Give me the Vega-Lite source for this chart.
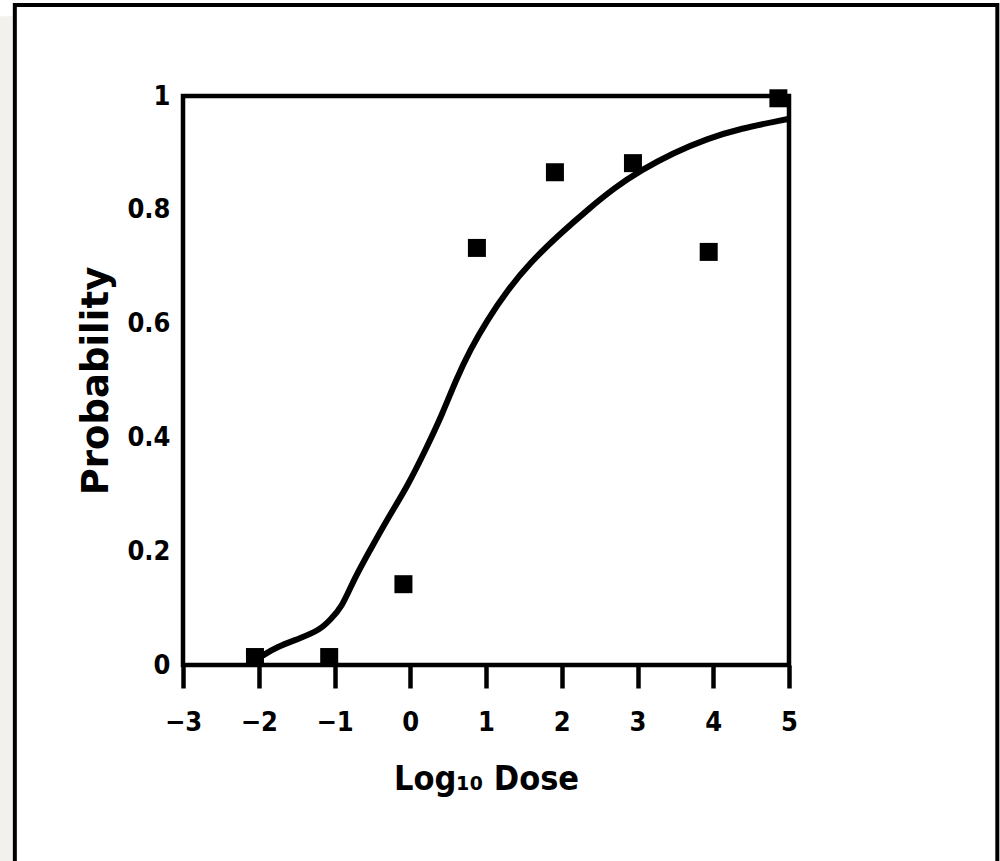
{
  "$schema": "https://vega.github.io/schema/vega-lite/v6.json",
  "width": 606,
  "height": 569,
  "autosize": {"type": "none"},
  "padding": {"left": 183, "top": 96, "right": 211, "bottom": 196},
  "background": "white",
  "config": {
    "view": {"stroke": "black", "strokeWidth": 4.5},
    "axis": {"grid": false, "domain": false}
  },
  "datasets": {
    "frame": [{"part": "outer frame"}],
    "strip": [{"part": "scan edge"}],
    "curve": [
      {"logdose": -1.98, "prob": 0.014},
      {"logdose": -1.76, "prob": 0.032},
      {"logdose": -1.45, "prob": 0.047},
      {"logdose": -1.19, "prob": 0.062},
      {"logdose": -1.06, "prob": 0.079},
      {"logdose": -0.9, "prob": 0.102},
      {"logdose": -0.75, "prob": 0.149},
      {"logdose": -0.53, "prob": 0.202},
      {"logdose": -0.31, "prob": 0.255},
      {"logdose": -0.04, "prob": 0.313},
      {"logdose": 0.22, "prob": 0.383},
      {"logdose": 0.43, "prob": 0.443},
      {"logdose": 0.6, "prob": 0.5},
      {"logdose": 0.79, "prob": 0.554},
      {"logdose": 1.02, "prob": 0.607},
      {"logdose": 1.28, "prob": 0.658},
      {"logdose": 1.58, "prob": 0.707},
      {"logdose": 1.98, "prob": 0.758},
      {"logdose": 2.34, "prob": 0.8},
      {"logdose": 2.7, "prob": 0.839},
      {"logdose": 3.04, "prob": 0.869},
      {"logdose": 3.47, "prob": 0.9},
      {"logdose": 3.92, "prob": 0.925},
      {"logdose": 4.36, "prob": 0.943},
      {"logdose": 4.93, "prob": 0.958},
      {"logdose": 5.0, "prob": 0.96}
    ],
    "points": [
      {"logdose": -2.05, "prob": 0.014},
      {"logdose": -1.07, "prob": 0.014},
      {"logdose": -0.09, "prob": 0.142},
      {"logdose": 0.88, "prob": 0.733},
      {"logdose": 1.91, "prob": 0.866},
      {"logdose": 2.94, "prob": 0.882},
      {"logdose": 3.94, "prob": 0.726},
      {"logdose": 4.86, "prob": 0.996}
    ]
  },
  "layer": [
    {
      "data": {"name": "strip"},
      "mark": {"type": "rect", "fill": "#f2f1ec", "stroke": null, "clip": false},
      "encoding": {
        "x": {"datum": -5.45, "type": "quantitative"},
        "x2": {"datum": -5.25},
        "y": {"datum": 1.14, "type": "quantitative"},
        "y2": {"datum": -0.4}
      }
    },
    {
      "data": {"name": "frame"},
      "mark": {"type": "rect", "fill": null, "stroke": "black", "strokeWidth": 4, "clip": false},
      "encoding": {
        "x": {"datum": -5.22, "type": "quantitative"},
        "x2": {"datum": 7.75},
        "y": {"datum": 1.16, "type": "quantitative"},
        "y2": {"datum": -0.4}
      }
    },
    {
      "data": {"name": "curve"},
      "mark": {"type": "line", "color": "black", "strokeWidth": 6, "interpolate": "basis"},
      "encoding": {
        "x": {
          "field": "logdose", "type": "quantitative",
          "scale": {"domain": [-3, 5], "nice": false, "zero": false},
          "axis": {
            "title": "Log₁₀ Dose",
            "values": [-3, -2, -1, 0, 1, 2, 3, 4, 5],
            "format": "d",
            "ticks": true, "tickSize": 23, "tickWidth": 4.5, "tickColor": "black",
            "labelFont": "DejaVu Sans Condensed, sans-serif",
            "labelFontWeight": "bold", "labelFontSize": 27, "labelColor": "black",
            "labelPadding": 21, "labelFlush": false,
            "titleFont": "DejaVu Sans Condensed, sans-serif",
            "titleFontWeight": "bold", "titleFontSize": 34, "titleColor": "black",
            "titlePadding": 27
          }
        },
        "y": {
          "field": "prob", "type": "quantitative",
          "scale": {"domain": [0, 1], "nice": false},
          "axis": {
            "title": "Probability",
            "values": [0, 0.2, 0.4, 0.6, 0.8, 1],
            "format": "~g",
            "ticks": false, "tickSize": 0,
            "labelFont": "DejaVu Sans Condensed, sans-serif",
            "labelFontWeight": "bold", "labelFontSize": 27, "labelColor": "black",
            "labelPadding": 13, "labelFlush": false,
            "titleFont": "DejaVu Sans",
            "titleFontWeight": "bold", "titleFontSize": 37, "titleColor": "black",
            "titlePadding": 11
          }
        }
      }
    },
    {
      "data": {"name": "points"},
      "mark": {"type": "point", "shape": "square", "filled": true, "color": "black", "size": 324, "opacity": 1, "clip": false},
      "encoding": {
        "x": {"field": "logdose", "type": "quantitative", "title": "Log₁₀ Dose"},
        "y": {"field": "prob", "type": "quantitative", "title": "Probability"}
      }
    }
  ]
}
